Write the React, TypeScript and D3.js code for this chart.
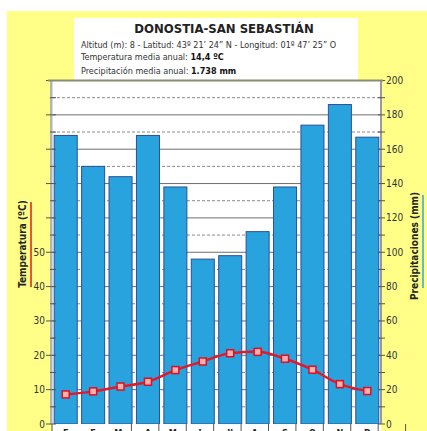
import React, { useRef, useEffect } from 'react';
import * as d3 from 'd3';

const months = ['E', 'F', 'Mz', 'A', 'My', 'Jn', 'Jl', 'Ag', 'S', 'O', 'N', 'D'];
const precip = [168, 150, 144, 168, 138, 96, 98, 112, 138, 174, 186, 167];
const temps = [8.6, 9.5, 10.9, 12.3, 15.7, 18.2, 20.6, 21.0, 19.0, 15.8, 11.6, 9.6];
const tempTickLabels = [0, 10, 20, 30, 40, 50];
const precipTickLabels = [0, 20, 40, 60, 80, 100, 120, 140, 160, 180, 200];

const W = 427;
const H = 431;
const FONT = '"DejaVu Sans Condensed", "DejaVu Sans", sans-serif';

const App = () => {
  const ref = useRef(null);

  useEffect(() => {
    const svg = d3.select(ref.current)
      .attr('width', W)
      .attr('height', H)
      .style('font-family', FONT);

    svg.selectAll('*').remove();

    const left = 52, right = 381, top = 80.5, bottom = 424;

    const x = d3.scaleBand().domain(months).range([left, right])
      .paddingInner(0.16).paddingOuter(0.08);
    const yP = d3.scaleLinear().domain([0, 200]).range([bottom, top]);
    const yT = d3.scaleLinear().domain([0, 100]).range([bottom, top]);

    // yellow backdrop
    svg.append('rect').attr('x', 7).attr('y', 11).attr('width', W - 7).attr('height', H - 11)
      .attr('fill', '#ffff88');

    // title box
    svg.append('rect').attr('x', 74).attr('y', 18).attr('width', 284).attr('height', 62)
      .attr('fill', '#ffffff');

    svg.append('text').attr('x', 224).attr('y', 33).attr('text-anchor', 'middle')
      .attr('font-size', 13).attr('font-weight', 'bold').attr('fill', '#222')
      .text('DONOSTIA-SAN SEBASTIÁN');

    svg.append('text').attr('x', 81).attr('y', 47.5).attr('font-size', 9).attr('fill', '#333')
      .text('Altitud (m): 8 - Latitud: 43º 21\u2019 24\u201D N - Longitud: 01º 47\u2019 25\u201D O');

    const t2 = svg.append('text').attr('x', 81).attr('y', 60).attr('font-size', 9).attr('fill', '#333');
    t2.append('tspan').text('Temperatura media anual: ');
    t2.append('tspan').attr('font-weight', 'bold').attr('fill', '#111').text('14,4 ºC');

    const t3 = svg.append('text').attr('x', 81).attr('y', 73.5).attr('font-size', 9).attr('fill', '#333');
    t3.append('tspan').text('Precipitación media anual: ');
    t3.append('tspan').attr('font-weight', 'bold').attr('fill', '#111').text('1.738 mm');

    // plot background
    svg.append('rect').attr('x', left).attr('y', top).attr('width', right - left).attr('height', bottom - top)
      .attr('fill', '#ffffff');

    // gridlines
    const grid = svg.append('g');
    d3.range(10, 200, 10).forEach((v) => {
      grid.append('line')
        .attr('x1', left).attr('x2', right)
        .attr('y1', yP(v)).attr('y2', yP(v))
        .attr('stroke', v % 20 === 0 ? '#6e6e6e' : '#8a8a8a')
        .attr('stroke-width', 1)
        .attr('stroke-dasharray', v % 20 === 0 ? null : '3,2');
    });

    // bars
    svg.append('g').selectAll('rect')
      .data(precip)
      .enter()
      .append('rect')
      .attr('x', (d, i) => x(months[i]))
      .attr('width', x.bandwidth())
      .attr('y', (d) => yP(d))
      .attr('height', (d) => bottom - yP(d))
      .attr('fill', '#29a3dd')
      .attr('stroke', '#2a4f9a')
      .attr('stroke-width', 1);

    // x-axis strip
    svg.append('rect').attr('x', left).attr('y', bottom).attr('width', right - left).attr('height', H - bottom)
      .attr('fill', '#ffffff');
    const step = x.step();
    d3.range(0, 13).forEach((i) => {
      const xx = left + (i === 0 ? 0 : x(months[0]) - step * x.paddingInner() / 2 + step * i);
      svg.append('line').attr('x1', xx).attr('x2', xx).attr('y1', bottom).attr('y2', H)
        .attr('stroke', '#555').attr('stroke-width', 1);
    });
    svg.append('g').selectAll('text')
      .data(months)
      .enter()
      .append('text')
      .attr('x', (d) => x(d) + x.bandwidth() / 2)
      .attr('y', 436)
      .attr('text-anchor', 'middle')
      .attr('font-size', 9)
      .attr('font-weight', 'bold')
      .attr('fill', '#222')
      .text((d) => d);

    // left axis
    svg.append('rect').attr('x', 50).attr('y', top).attr('width', 2.5).attr('height', bottom - top)
      .attr('fill', '#b4b4b4');
    d3.range(0, 101, 5).forEach((v) => {
      const major = v % 10 === 0;
      svg.append('line')
        .attr('x1', major ? 46 : 50).attr('x2', 56)
        .attr('y1', yT(v)).attr('y2', yT(v))
        .attr('stroke', '#555').attr('stroke-width', 1);
    });
    svg.append('g').selectAll('text')
      .data(tempTickLabels)
      .enter()
      .append('text')
      .attr('x', 45)
      .attr('y', (d) => yT(d) + 3.5)
      .attr('text-anchor', 'end')
      .attr('font-size', 10)
      .attr('fill', '#333')
      .text((d) => d);

    // right axis
    svg.append('rect').attr('x', right - 1).attr('y', top).attr('width', 2).attr('height', bottom - top)
      .attr('fill', '#9a9a9a');
    d3.range(0, 201, 10).forEach((v) => {
      svg.append('line')
        .attr('x1', right - 3).attr('x2', right + 4)
        .attr('y1', yP(v)).attr('y2', yP(v))
        .attr('stroke', '#555').attr('stroke-width', 1);
    });
    svg.append('g').selectAll('text')
      .data(precipTickLabels)
      .enter()
      .append('text')
      .attr('x', 386)
      .attr('y', (d) => yP(d) + 3.5)
      .attr('font-size', 10)
      .attr('fill', '#333')
      .text((d) => d);

    // top border
    svg.append('line').attr('x1', 48).attr('x2', 383).attr('y1', top).attr('y2', top)
      .attr('stroke', '#8c8c70').attr('stroke-width', 2);

    // temperature line
    const line = d3.line()
      .x((d, i) => x(months[i]) + x.bandwidth() / 2)
      .y((d) => yT(d))
      .curve(d3.curveMonotoneX);

    svg.append('path')
      .datum(temps)
      .attr('d', line)
      .attr('fill', 'none')
      .attr('stroke', '#e5182a')
      .attr('stroke-width', 2.5);

    svg.append('g').selectAll('rect')
      .data(temps)
      .enter()
      .append('rect')
      .attr('x', (d, i) => x(months[i]) + x.bandwidth() / 2 - 3.5)
      .attr('y', (d) => yT(d) - 3.5)
      .attr('width', 7)
      .attr('height', 7)
      .attr('fill', '#ffb0a8')
      .attr('stroke', '#d8102a')
      .attr('stroke-width', 1.5);

    // axis titles
    svg.append('text')
      .attr('transform', 'translate(26, 244) rotate(-90)')
      .attr('text-anchor', 'middle')
      .attr('font-size', 10)
      .attr('font-weight', 'bold')
      .attr('fill', '#222')
      .text('Temperatura (ºC)');
    svg.append('line').attr('x1', 31).attr('x2', 31).attr('y1', 202).attr('y2', 287)
      .attr('stroke', '#e51a1a').attr('stroke-width', 1.5);

    svg.append('text')
      .attr('transform', 'translate(418, 246) rotate(-90)')
      .attr('text-anchor', 'middle')
      .attr('font-size', 10)
      .attr('font-weight', 'bold')
      .attr('fill', '#222')
      .text('Precipitaciones (mm)');
    svg.append('line').attr('x1', 423).attr('x2', 423).attr('y1', 195).attr('y2', 288)
      .attr('stroke', '#3aa0e0').attr('stroke-width', 1.5);
  }, []);

  return (
    <div style={{ position: 'absolute', left: 0, top: 0 }}>
      <svg ref={ref}></svg>
    </div>
  );
};

export default App;
